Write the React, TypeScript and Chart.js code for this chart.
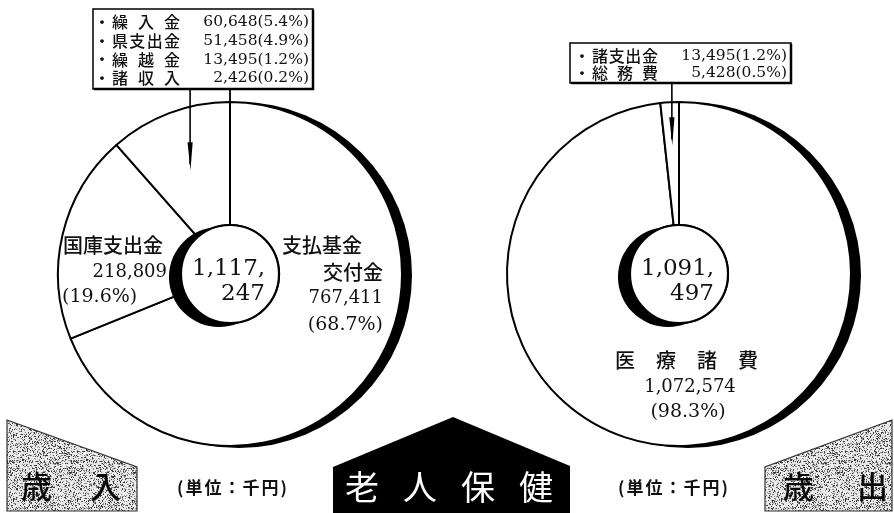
import React, { useEffect, useRef } from 'react';
import { Chart, registerables } from 'chart.js';

Chart.register(...registerables);

// ---------- data ----------
// 歳入 (revenue)
const leftMainLabels = ['支払基金交付金', '国庫支出金'];
const leftMainValues = [767411, 218809];
const leftMainPct = ['68.7', '19.6'];
const leftSmallLabels = ['繰入金', '県支出金', '繰越金', '諸収入'];
const leftSmallValues = [60648, 51458, 13495, 2426];
const leftSmallPct = ['5.4', '4.9', '1.2', '0.2'];
const leftTotal = 1117247;

// 歳出 (expenditure)
const rightMainLabels = ['医療諸費'];
const rightMainValues = [1072574];
const rightMainPct = ['98.3'];
const rightSmallLabels = ['諸支出金', '総務費'];
const rightSmallValues = [13495, 5428];
const rightSmallPct = ['1.2', '0.5'];
const rightTotal = 1091497;

const bannerLeft = '歳入';
const bannerRight = '歳出';
const titleText = '老人保健';
const unitText = '(単位：千円)';

// ---------- helpers ----------
const W = 894;
const H = 513;
const SERIF = '"DejaVu Serif", "Liberation Serif", serif';
const JP = '"Noto Sans CJK JP", "Noto Sans", sans-serif';

const fmt = (v: number) => v.toLocaleString('en-US');
const sum = (a: number[]) => a.reduce((s, v) => s + v, 0);

function spread(ctx: CanvasRenderingContext2D, text: string, x0: number, x1: number, y: number) {
  const chars = Array.from(text);
  ctx.textAlign = 'left';
  if (chars.length === 1) {
    ctx.fillText(chars[0], x0, y);
    return;
  }
  const widths = chars.map((c) => ctx.measureText(c).width);
  const total = sum(widths);
  const gap = (x1 - x0 - total) / (chars.length - 1);
  let x = x0;
  chars.forEach((c, i) => {
    ctx.fillText(c, x, y);
    x += widths[i] + gap;
  });
}

function poly(ctx: CanvasRenderingContext2D, pts: number[][]) {
  ctx.beginPath();
  pts.forEach((p, i) => (i === 0 ? ctx.moveTo(p[0], p[1]) : ctx.lineTo(p[0], p[1])));
  ctx.closePath();
}

// deterministic speckle texture for the banner tiles
function stipple(ctx: CanvasRenderingContext2D) {
  const n = 64;
  const c = document.createElement('canvas');
  c.width = n;
  c.height = n;
  const g = c.getContext('2d')!;
  g.fillStyle = '#e6e6e6';
  g.fillRect(0, 0, n, n);
  for (let i = 0; i < n; i++) {
    for (let j = 0; j < n; j++) {
      const h = Math.sin(i * 12.9898 + j * 78.233) * 43758.5453;
      const f = h - Math.floor(h);
      if (f < 0.16) {
        g.fillStyle = '#3a3a3a';
        g.fillRect(i, j, 1, 1);
      } else if (f < 0.32) {
        g.fillStyle = '#8a8a8a';
        g.fillRect(i, j, 1, 1);
      } else if (f > 0.9) {
        g.fillStyle = '#ffffff';
        g.fillRect(i, j, 1, 1);
      }
    }
  }
  return ctx.createPattern(c, 'repeat');
}

function drawInner(ctx: CanvasRenderingContext2D, cx: number, cy: number, r: number, total: number) {
  ctx.save();
  ctx.fillStyle = '#000';
  ctx.beginPath();
  ctx.arc(cx - 11, cy + 3, r + 1, 0, Math.PI * 2);
  ctx.fill();
  ctx.fillStyle = '#fff';
  ctx.beginPath();
  ctx.arc(cx, cy, r, 0, Math.PI * 2);
  ctx.fill();
  ctx.lineWidth = 2.2;
  ctx.strokeStyle = '#000';
  ctx.stroke();
  const s = fmt(total);
  const k = s.lastIndexOf(',');
  ctx.fillStyle = '#111';
  ctx.font = `23px ${SERIF}`;
  ctx.textBaseline = 'middle';
  ctx.textAlign = 'left';
  ctx.fillText(s.slice(0, k + 1), cx - 38, cy - 5);
  ctx.textAlign = 'right';
  ctx.fillText(s.slice(k + 1), cx + 35, cy + 20);
  ctx.restore();
}

type Row = { label: string; value: number; pct: string };

function drawBox(
  ctx: CanvasRenderingContext2D,
  x: number,
  y: number,
  w: number,
  h: number,
  rows: Row[],
  rowY0: number,
  step: number,
  labelX0: number,
  labelX1: number,
  valueRight: number
) {
  ctx.save();
  ctx.fillStyle = '#fff';
  ctx.fillRect(x, y, w, h);
  ctx.strokeStyle = '#000';
  ctx.lineWidth = 1.5;
  ctx.strokeRect(x, y, w, h);
  ctx.lineWidth = 2.5;
  ctx.beginPath();
  ctx.moveTo(x + w, y + 1);
  ctx.lineTo(x + w, y + h);
  ctx.lineTo(x + 1, y + h);
  ctx.stroke();
  ctx.fillStyle = '#111';
  ctx.textBaseline = 'middle';
  rows.forEach((row, i) => {
    const yy = rowY0 + i * step;
    ctx.font = `bold 15px ${JP}`;
    ctx.textAlign = 'center';
    ctx.fillText('・', labelX0 - 10, yy);
    ctx.font = `500 16px ${JP}`;
    spread(ctx, row.label, labelX0, labelX1, yy);
    ctx.font = `15.5px ${SERIF}`;
    ctx.textAlign = 'right';
    ctx.fillText(`${fmt(row.value)}(${row.pct}%)`, valueRight, yy);
  });
  ctx.restore();
}

function drawArrow(ctx: CanvasRenderingContext2D, x: number, yTop: number, tipY: number) {
  ctx.save();
  ctx.strokeStyle = '#000';
  ctx.fillStyle = '#000';
  ctx.lineWidth = 1.6;
  ctx.beginPath();
  ctx.moveTo(x, yTop);
  ctx.lineTo(x, tipY - 4);
  ctx.stroke();
  poly(ctx, [
    [x - 2.6, tipY - 26],
    [x + 2.6, tipY - 26],
    [x + 0.4, tipY + 2],
  ]);
  ctx.fill();
  ctx.restore();
}

function outerShadow(chart: any) {
  const ctx = chart.ctx as CanvasRenderingContext2D;
  const a = chart.getDatasetMeta(0).data[0] as any;
  ctx.save();
  ctx.fillStyle = '#000';
  ctx.beginPath();
  ctx.arc(a.x + 9, a.y + 1, a.outerRadius + 1, 0, Math.PI * 2);
  ctx.fill();
  ctx.restore();
}

function banner(ctx: CanvasRenderingContext2D, pts: number[][], text: string, x0: number, x1: number) {
  const pat = stipple(ctx);
  poly(ctx, pts);
  ctx.fillStyle = pat || '#c4c4c4';
  ctx.fill();
  ctx.strokeStyle = '#333';
  ctx.lineWidth = 1.2;
  ctx.stroke();
  ctx.fillStyle = '#0a0a0a';
  ctx.font = `500 31px ${JP}`;
  ctx.textBaseline = 'middle';
  spread(ctx, text, x0, x1, 486);
}

function unit(ctx: CanvasRenderingContext2D, x0: number, x1: number) {
  ctx.fillStyle = '#111';
  ctx.font = `bold 17px ${JP}`;
  ctx.textBaseline = 'middle';
  spread(ctx, unitText, x0, x1, 488);
}

const leftPlugin = {
  id: 'leftDecor',
  beforeDatasetsDraw(chart: any) {
    outerShadow(chart);
  },
  afterDatasetsDraw(chart: any) {
    const ctx = chart.ctx as CanvasRenderingContext2D;
    const meta = chart.getDatasetMeta(0);
    const a0 = meta.data[0] as any;
    const cx = a0.x;
    const cy = a0.y;
    const R = a0.outerRadius;
    const r = a0.innerRadius;
    drawInner(ctx, cx, cy, r, leftTotal);

    // slice labels
    ctx.save();
    ctx.fillStyle = '#111';
    ctx.textBaseline = 'middle';
    // 国庫支出金
    ctx.font = `500 20px ${JP}`;
    ctx.textAlign = 'left';
    ctx.fillText(leftMainLabels[1], 63, 245);
    ctx.font = `18px ${SERIF}`;
    ctx.textAlign = 'right';
    ctx.fillText(fmt(leftMainValues[1]), 167, 272);
    ctx.font = `19px ${SERIF}`;
    ctx.textAlign = 'left';
    ctx.fillText(`(${leftMainPct[1]}%)`, 62, 297);
    // 支払基金交付金
    ctx.font = `500 20px ${JP}`;
    ctx.textAlign = 'left';
    ctx.fillText(leftMainLabels[0].slice(0, 4), 282, 245);
    ctx.textAlign = 'right';
    ctx.fillText(leftMainLabels[0].slice(4), 383, 272);
    ctx.font = `18px ${SERIF}`;
    ctx.fillText(fmt(leftMainValues[0]), 383, 298);
    ctx.font = `19px ${SERIF}`;
    ctx.fillText(`(${leftMainPct[0]}%)`, 383, 325);
    ctx.restore();

    // legend box + leaders
    const boxTop = 9;
    const boxBottom = 89;
    const sa = a0.startAngle;
    const px = cx + R * Math.cos(sa);
    const py = cy + R * Math.sin(sa);
    ctx.save();
    ctx.strokeStyle = '#000';
    ctx.lineWidth = 1.8;
    ctx.beginPath();
    ctx.moveTo(px, py);
    ctx.lineTo(px, boxBottom);
    ctx.stroke();
    ctx.restore();
    const small = meta.data[2] as any;
    const mid = (small.startAngle + small.endAngle) / 2;
    const tx = cx + 113 * Math.cos(mid);
    const ty = cy + 113 * Math.sin(mid);
    drawArrow(ctx, tx, boxBottom, ty);
    drawBox(
      ctx,
      93,
      boxTop,
      220,
      boxBottom - boxTop,
      leftSmallLabels.map((l, i) => ({ label: l, value: leftSmallValues[i], pct: leftSmallPct[i] })),
      22,
      18.8,
      112,
      180,
      309
    );
  },
  afterDraw(chart: any) {
    const ctx = chart.ctx as CanvasRenderingContext2D;
    ctx.save();
    banner(
      ctx,
      [
        [7, 420],
        [137, 467],
        [137, 511],
        [7, 511],
      ],
      bannerLeft,
      21,
      121
    );
    unit(ctx, 177, 287);
    // center title
    poly(ctx, [
      [333, 514],
      [333, 467],
      [453, 417],
      [570, 466],
      [570, 514],
    ]);
    ctx.fillStyle = '#000';
    ctx.fill();
    ctx.fillStyle = '#fff';
    ctx.font = `34px ${JP}`;
    spread(ctx, titleText, 345, 553, 487);
    ctx.restore();
  },
};

const rightPlugin = {
  id: 'rightDecor',
  beforeDatasetsDraw(chart: any) {
    outerShadow(chart);
  },
  afterDatasetsDraw(chart: any) {
    const ctx = chart.ctx as CanvasRenderingContext2D;
    const meta = chart.getDatasetMeta(0);
    const a0 = meta.data[0] as any;
    const cx = a0.x;
    const cy = a0.y;
    const r = a0.innerRadius;
    drawInner(ctx, cx, cy, r, rightTotal);

    ctx.save();
    ctx.fillStyle = '#111';
    ctx.textBaseline = 'middle';
    ctx.font = `500 20px ${JP}`;
    spread(ctx, rightMainLabels[0], 615, 758, 360);
    ctx.textAlign = 'center';
    ctx.font = `18px ${SERIF}`;
    ctx.fillText(fmt(rightMainValues[0]), 690, 387);
    ctx.font = `19px ${SERIF}`;
    ctx.fillText(`(${rightMainPct[0]}%)`, 688, 412);
    ctx.restore();

    const boxTop = 43;
    const boxBottom = 83;
    const small = meta.data[1] as any;
    const mid = (small.startAngle + small.endAngle) / 2;
    const tx = cx + 131 * Math.cos(mid);
    const ty = cy + 131 * Math.sin(mid);
    drawArrow(ctx, tx, boxBottom, ty);
    drawBox(
      ctx,
      570,
      boxTop,
      221,
      boxBottom - boxTop,
      rightSmallLabels.map((l, i) => ({ label: l, value: rightSmallValues[i], pct: rightSmallPct[i] })),
      56,
      17,
      592,
      658,
      787
    );
  },
  afterDraw(chart: any) {
    const ctx = chart.ctx as CanvasRenderingContext2D;
    ctx.save();
    banner(
      ctx,
      [
        [892, 420],
        [765, 467],
        [765, 511],
        [892, 511],
      ],
      bannerRight,
      783,
      888
    );
    unit(ctx, 618, 728);
    ctx.restore();
  },
};

function pieConfig(labels: string[], data: number[], padding: any, plugin: any): any {
  return {
    type: 'doughnut',
    data: {
      labels,
      datasets: [
        {
          data,
          backgroundColor: '#ffffff',
          borderColor: '#000000',
          borderWidth: 2,
          hoverOffset: 0,
        },
      ],
    },
    options: {
      responsive: false,
      animation: false,
      events: [],
      radius: 172,
      cutout: '28.5%',
      layout: { padding },
      plugins: {
        legend: { display: false },
        tooltip: { enabled: false },
      },
    },
    plugins: [plugin],
  };
}

export default function App() {
  const leftRef = useRef<HTMLCanvasElement>(null);
  const rightRef = useRef<HTMLCanvasElement>(null);

  useEffect(() => {
    const left = new Chart(
      leftRef.current!,
      pieConfig(
        [...leftMainLabels, 'その他'],
        [...leftMainValues, sum(leftSmallValues)],
        { left: 0, right: W - 460, top: 35, bottom: 0 },
        leftPlugin
      )
    );
    const right = new Chart(
      rightRef.current!,
      pieConfig(
        [...rightMainLabels, 'その他'],
        [...rightMainValues, sum(rightSmallValues)],
        { left: 464, right: 0, top: 35, bottom: 0 },
        rightPlugin
      )
    );
    return () => {
      left.destroy();
      right.destroy();
    };
  }, []);

  return (
    <div style={{ position: 'fixed', left: 0, top: 0, width: W, height: H, background: '#fff' }}>
      <canvas ref={leftRef} width={W} height={H} style={{ position: 'absolute', left: 0, top: 0 }} />
      <canvas ref={rightRef} width={W} height={H} style={{ position: 'absolute', left: 0, top: 0 }} />
    </div>
  );
}
